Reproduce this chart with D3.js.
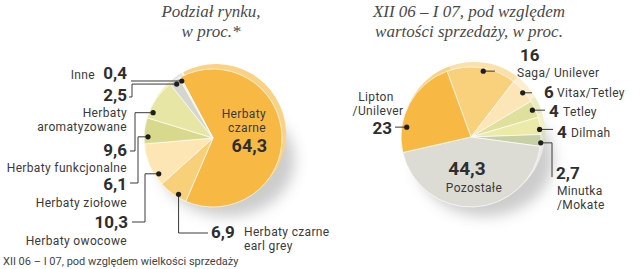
<!DOCTYPE html>
<html><head><meta charset="utf-8">
<script src="https://cdn.jsdelivr.net/npm/d3@7/dist/d3.min.js"></script>
<style>
html,body{margin:0;padding:0;background:#fff;}
svg{display:block;}
text{font-family:Roboto,"Open Sans",sans-serif;fill:#3a3a3a;font-size:12px;}
.title{font-family:"Liberation Serif","DejaVu Serif",serif;font-style:italic;font-size:17px;fill:#4a4a4a;}
.num{font-weight:bold;font-size:17px;fill:#2e2e2e;}
.name{font-size:12px;letter-spacing:0.35px;}
.foot{font-size:11px;fill:#444;}
</style></head>
<body>
<script>
// ---- data ----
const leftCategories = ["Herbaty czarne","Herbaty czarne earl grey","Herbaty owocowe","Herbaty ziołowe","Herbaty funkcjonalne","Herbaty aromatyzowane","Inne"];
const leftValues = [64.3, 6.9, 10.3, 6.1, 9.6, 2.5, 0.4];
const leftValueLabels = ["64,3","6,9","10,3","6,1","9,6","2,5","0,4"];
const rightCategories = ["Saga/ Unilever","Vitax/Tetley","Tetley","Dilmah","Minutka /Mokate","Pozostałe","Lipton /Unilever"];
const rightValues = [16, 6, 4, 4, 2.7, 44.3, 23];
const rightValueLabels = ["16","6","4","4","2,7","44,3","23"];
const leftTitle = ["Podział rynku,","w proc.*"];
const rightTitle = ["XII 06 – I 07, pod względem","wartości sprzedaży, w proc."];
const footnote = "XII 06 – I 07, pod względem wielkości sprzedaży";

// ---- styles / layout ----
const leftColors = ["#f8b944","#f9d07a","#fde6b3","#d8d98d","#e7e6a4","#d4d6cf","#efefe8"];
const rightColors = ["#f9d07c","#fce5b6","#dfe09c","#ebeaa9","#c6cfa6","#dcdcd5","#f8b944"];
const W = 640, H = 269;
const svg = d3.select("body").append("svg").attr("width", W).attr("height", H);
const defs = svg.append("defs");
defs.append("filter").attr("id","blur").attr("x","-50%").attr("y","-50%").attr("width","200%").attr("height","200%")
  .append("feGaussianBlur").attr("stdDeviation", 7);

function drawPie(cx, cy, r, values, colors, startDeg) {
  const a0 = startDeg * Math.PI / 180;
  const pie = d3.pie().sort(null).startAngle(a0).endAngle(a0 + 2 * Math.PI);
  const arcs = pie(values);
  svg.append("ellipse").attr("cx", cx + 14).attr("cy", cy + 22).attr("rx", r * 0.98).attr("ry", r * 0.82)
    .attr("fill", "#8f8f8f").attr("opacity", 0.45).attr("filter", "url(#blur)");
  const rim = svg.append("g").attr("transform", `translate(${cx + 3},${cy - 4})`);
  rim.selectAll("path").data(arcs).join("path")
    .attr("d", d3.arc().innerRadius(0).outerRadius(r + 1))
    .attr("fill", (d, i) => d3.interpolateRgb(colors[i], "#ffffff")(0.35));
  const g = svg.append("g").attr("transform", `translate(${cx},${cy})`);
  g.selectAll("path").data(arcs).join("path")
    .attr("d", d3.arc().innerRadius(0).outerRadius(r))
    .attr("fill", (d, i) => colors[i])
    .attr("stroke", "rgba(255,255,255,0.75)").attr("stroke-width", 0.9);
  return arcs;
}

function anchor(cx, cy, arc, frac, rr) {
  const a = arc.startAngle + (arc.endAngle - arc.startAngle) * frac;
  return [cx + rr * Math.sin(a), cy - rr * Math.cos(a)];
}

function leader(pts) {
  svg.append("path").attr("d", d3.line()(pts)).attr("fill", "none")
    .attr("stroke", "#3a3a3a").attr("stroke-width", 1);
  svg.append("circle").attr("cx", pts[0][0]).attr("cy", pts[0][1]).attr("r", 2.6).attr("fill", "#1e1e1e");
}

// one <text> per label; parts = [[x, y, string, class, anchor, fontSize?], ...]
function label(parts) {
  const t = svg.append("text");
  parts.forEach(p => {
    const s = t.append("tspan").attr("x", p[0]).attr("y", p[1]).attr("class", p[3])
      .attr("text-anchor", p[4] || "start").text(p[2]);
    if (p[5]) s.style("font-size", p[5]);
  });
  return t;
}

// ---- left pie ----
const L = {cx: 213, cy: 138, r: 69};
const la = drawPie(L.cx, L.cy, L.r, leftValues, leftColors, -28);
label([[211, 17, leftTitle[0], "title", "middle"], [211, 37, leftTitle[1], "title", "middle"]]).attr("class", "title");
label([[266, 118, "Herbaty", "name", "end"], [266, 132.2, "czarne", "name", "end"],
       [267, 152, leftValueLabels[0], "num", "end", "18px"]]);

const leftLead = [
  {i: 6, f: 0.5, ex: null, ly: null, end: 131},
  {i: 5, f: 0.5, ex: 132, ly: 97, end: 129},
  {i: 4, f: 0.17, ex: 135, ly: 151, end: 130},
  {i: 3, f: 0.27, ex: 138, ly: 183, end: 130},
  {i: 2, f: 0.23, ex: 145, ly: 222, end: 132}
];
leftLead.forEach(o => {
  const p = anchor(L.cx, L.cy, la[o.i], o.f, 65);
  if (o.ex === null) leader([p, [o.end, p[1]]]);
  else leader([p, [o.ex, p[1]], [o.ex, o.ly], [o.end, o.ly]]);
});
{
  const p = anchor(L.cx, L.cy, la[1], 0.33, 66);
  leader([p, [p[0], 233], [208, 233]]);
}
label([[95, 79, "Inne", "name", "end"], [127, 79, leftValueLabels[6], "num", "end"]]);
label([[127, 101, leftValueLabels[5], "num", "end"], [127, 116.6, "Herbaty", "name", "end"], [127, 130.8, "aromatyzowane", "name", "end"]]);
label([[127, 156, leftValueLabels[4], "num", "end"], [127, 171.5, "Herbaty funkcjonalne", "name", "end"]]);
label([[127, 190, leftValueLabels[3], "num", "end"], [127, 207, "Herbaty ziołowe", "name", "end"]]);
label([[128, 228, leftValueLabels[2], "num", "end"], [127, 245, "Herbaty owocowe", "name", "end"]]);
label([[211, 238, leftValueLabels[1], "num"], [244, 235.6, "Herbaty czarne", "name"], [244, 249.8, "earl grey", "name"]]);

// ---- right pie ----
const R = {cx: 471, cy: 137, r: 70};
const ra = drawPie(R.cx, R.cy, R.r, rightValues, rightColors, -20);
label([[469, 17, rightTitle[0], "title", "middle"], [469, 37, rightTitle[1], "title", "middle"]]).attr("class", "title");
{
  let p = anchor(R.cx, R.cy, ra[0], 0.53, 67); leader([p, [495, p[1]]]);
  p = anchor(R.cx, R.cy, ra[1], 0.55, 68); leader([p, [532, p[1]]]);
  p = anchor(R.cx, R.cy, ra[2], 0.5, 67); leader([p, [545, p[1]]]);
  p = anchor(R.cx, R.cy, ra[3], 0.7, 69); leader([p, [553, p[1]]]);
  p = anchor(R.cx, R.cy, ra[4], 0.7, 70); leader([p, [552, p[1]], [552, 177]]);
  p = anchor(R.cx, R.cy, ra[6], 0.26, 65); leader([p, [395, p[1]]]);
}
label([[520, 61, rightValueLabels[0], "num"], [517, 76.6, "Saga/ Unilever", "name"]]);
label([[544, 98, rightValueLabels[1], "num"], [557, 97, "Vitax/Tetley", "name"]]);
label([[549, 117, rightValueLabels[2], "num"], [563, 116, "Tetley", "name"]]);
label([[557, 138, rightValueLabels[3], "num"], [571, 137, "Dilmah", "name"]]);
label([[556, 179, rightValueLabels[4], "num"], [557, 194.5, "Minutka", "name"], [557, 208.7, "/Mokate", "name"]]);
label([[376, 101, "Lipton", "name", "middle"], [378, 115.2, "/Unilever", "name", "middle"], [392, 134.3, rightValueLabels[6], "num", "end"]]);
label([[467, 175, rightValueLabels[5], "num", "middle", "19px"], [474, 192, "Pozostałe", "name", "middle"]]);

label([[3, 265, footnote, "foot", "start"]]);
</script>
</body></html>
